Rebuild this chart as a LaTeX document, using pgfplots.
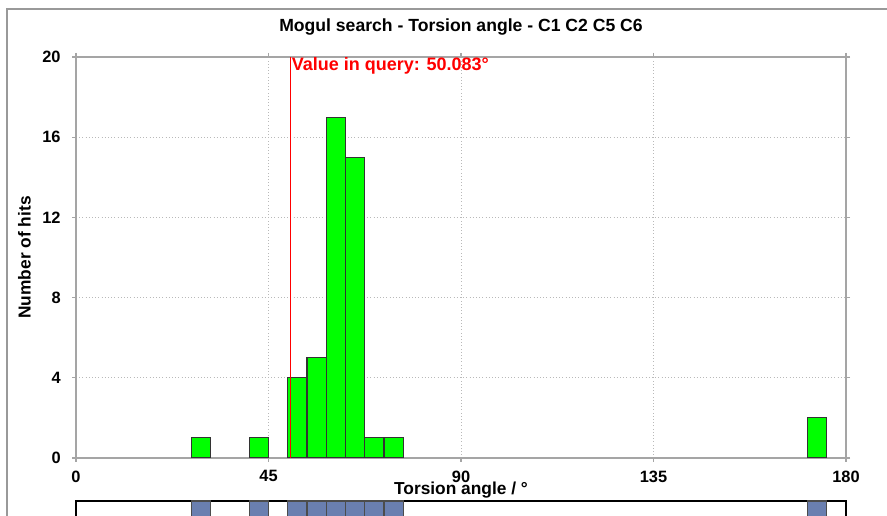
\documentclass[border=0pt]{standalone}
\usepackage{fontspec}
\setmainfont{Liberation Sans}
\usepackage{pgfplots}
\pgfplotsset{compat=1.18}
\definecolor{bargreen}{RGB}{0,255,0}
\definecolor{stripblue}{RGB}{106,127,176}
\definecolor{axgray}{RGB}{165,165,165}
\definecolor{gridgray}{RGB}{185,185,185}
\begin{document}
\begin{tikzpicture}
\clip (0,0) rectangle (665.25pt,387pt);
\fill[white] (0,0) rectangle (665.25pt,387pt);
\draw[gray!80, line width=1.5pt] (5.25pt,-5pt) -- (5.25pt,380.25pt) -- (670pt,380.25pt);
\node[font=\bfseries\fontsize{13.2}{15}\selectfont] at (345.75pt,367pt) {Mogul search - Torsion angle - C1 C2 C5 C6};
\begin{axis}[
  at={(57pt,43.5pt)}, anchor=south west,
  scale only axis, width=577.5pt, height=300.75pt,
  xmin=0, xmax=180, ymin=0, ymax=20,
  xtick={0,45,90,135,180}, ytick={0,4,8,12,16,20},
  grid=major, grid style={dotted, gridgray, line width=0.7pt},
  axis line style={axgray, line width=0.9pt},
  tick align=outside, major tick length=3pt,
  tick style={axgray, line width=0.8pt},
  xticklabel style={font=\bfseries\fontsize{12.3}{14}\selectfont, yshift=-3pt},
  yticklabel style={font=\bfseries\fontsize{12.3}{14}\selectfont, xshift=-5pt},
  /pgf/number format/assume math mode=true,
  xlabel={Torsion angle / °}, ylabel={Number of hits},
  xlabel style={font=\bfseries\fontsize{13}{15}\selectfont, at={(axis description cs:0.5,0)}, anchor=center, yshift=-24pt},
  ylabel style={font=\bfseries\fontsize{13}{15}\selectfont, at={(axis description cs:-0.067,0.5)}, anchor=center},
]
\addplot[ybar, bar width=4.5, bar shift=0pt, fill=bargreen, draw=black!80, line width=0.8pt]
  coordinates {(29.25,1) (42.75,1) (51.75,4) (56.25,5) (60.75,17) (65.25,15) (69.75,1) (74.25,1) (173.25,2)};
\addplot[red, line width=0.8pt] coordinates {(50.083,0) (50.083,20)};
\node[anchor=north west, text=red, font=\bfseries\fontsize{13.5}{15}\selectfont, inner sep=1pt, yshift=1pt] at (axis cs:50.083,20) {Value in query: 50.083°};
\end{axis}
\begin{axis}[
  at={(57pt,11.25pt)}, anchor=north west,
  scale only axis, width=577.5pt, height=40pt,
  xmin=0, xmax=180, ymin=0, ymax=1,
  axis line style={black, line width=0.8pt},
  xtick=\empty, ytick=\empty,
]
\addplot[ybar, bar width=4.5, bar shift=0pt, fill=stripblue, draw=black!70, line width=0.8pt]
  coordinates {(29.25,1) (42.75,1) (51.75,1) (56.25,1) (60.75,1) (65.25,1) (69.75,1) (74.25,1) (173.25,1)};
\end{axis}
\end{tikzpicture}
\end{document}
